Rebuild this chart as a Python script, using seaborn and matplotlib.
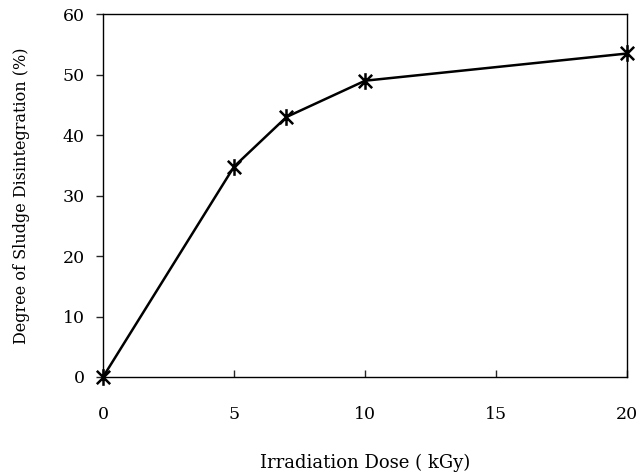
import matplotlib
matplotlib.use("Agg")
import matplotlib.pyplot as plt
from matplotlib.path import Path
import seaborn as sns
import pandas as pd

dose = [0, 5, 7, 10, 20]
disintegration = [0, 34.8, 43.0, 49.0, 53.5]
x_ticks = [0, 5, 10, 15, 20]
y_ticks = [0, 10, 20, 30, 40, 50, 60]

sns.set_theme(style="white")
plt.rcParams['font.family'] = ['DejaVu Serif', 'Liberation Serif']

df = pd.DataFrame({"dose": dose, "dis": disintegration})

star = Path([(-0.8, -0.8), (0.8, 0.8), (-0.8, 0.8), (0.8, -0.8), (0, -1), (0, 1)],
            [Path.MOVETO, Path.LINETO, Path.MOVETO, Path.LINETO, Path.MOVETO, Path.LINETO])

fig = plt.figure(figsize=(6.4, 4.73), dpi=100)
ax = fig.add_axes([0.161, 0.203, 0.819, 0.767])
sns.lineplot(data=df, x="dose", y="dis", ax=ax, color="black", linewidth=1.8,
             marker=star, markersize=12, markeredgewidth=1.8,
             markeredgecolor="black", clip_on=False)
ax.set_xlim(0, 20)
ax.set_ylim(0, 60)
ax.set_xticks(x_ticks)
ax.set_yticks(y_ticks)
for s in ax.spines.values():
    s.set_color("black")
    s.set_linewidth(1.0)
ax.tick_params(axis="y", direction="out", length=5, width=1, labelsize=12.5, pad=8, left=True)
ax.tick_params(axis="x", direction="in", length=5, width=1, labelsize=12.5, pad=21, bottom=True)
ax.set_xlabel("Irradiation Dose ( kGy)", fontsize=13, labelpad=22, color="black")
ax.set_ylabel("Degree of Sludge Disintegration (%)", fontsize=11.5, labelpad=24, color="black")
for lab in ax.get_xticklabels() + ax.get_yticklabels():
    lab.set_color("black")
fig.savefig("out.png", dpi=100)
